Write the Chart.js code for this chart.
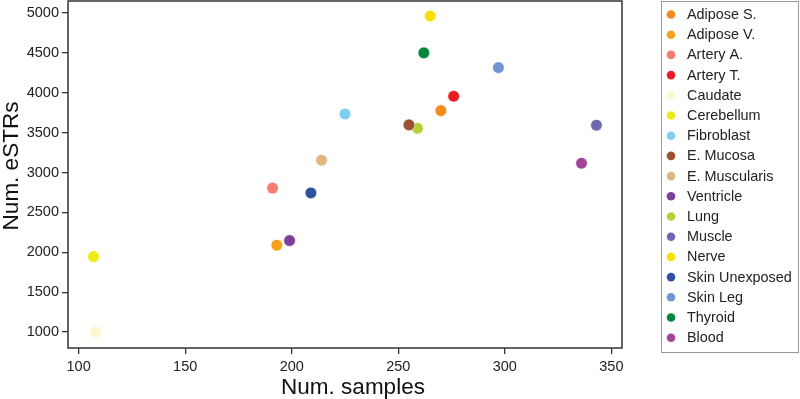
<!DOCTYPE html>
<html>
<head>
<meta charset="utf-8">
<script src="https://cdn.jsdelivr.net/npm/chart.js@4"></script>
<style>
  html, body { margin: 0; padding: 0; background: #fff; }
  #wrap { width: 800px; height: 399px; }
</style>
</head>
<body>
<div id="wrap"><canvas id="scatter"></canvas></div>
<script>
// values
var tissues = ['Adipose S.', 'Adipose V.', 'Artery A.', 'Artery T.', 'Caudate', 'Cerebellum',
  'Fibroblast', 'E. Mucosa', 'E. Muscularis', 'Ventricle', 'Lung', 'Muscle', 'Nerve',
  'Skin Unexposed', 'Skin Leg', 'Thyroid', 'Blood'];
var numSamples = [270, 193, 191, 276, 108, 107, 225, 255, 214, 199, 259, 343, 265, 209, 297, 262, 336];
var numEstrs = [3776, 2089, 2805, 3956, 1000, 1946, 3734, 3597, 3154, 2147, 3555, 3593, 4962, 2744, 4315, 4500, 3116];
var tissueColors = ['#f58b1f', '#f9a11b', '#f47c70', '#ec1c24', '#fdf6cf', '#eeea16',
  '#7fcdef', '#9c5230', '#ddb680', '#7e3f98', '#b2d235', '#6e68b0', '#fedd00',
  '#2f52a1', '#6f96d2', '#06853f', '#a3449a'];
var xTicks = [100, 150, 200, 250, 300, 350];
var yTicks = [1000, 1500, 2000, 2500, 3000, 3500, 4000, 4500, 5000];
var xTitle = 'Num. samples';
var yTitle = 'Num. eSTRs';

var FONT = '"Liberation Sans", Arial, sans-serif';

var datasets = tissues.map(function (name, i) {
  return {
    label: name,
    data: [{ x: numSamples[i], y: numEstrs[i] }],
    backgroundColor: tissueColors[i],
    borderColor: '#ffffff',
    borderWidth: 0.5,
    pointRadius: 5.8,
    pointHoverRadius: 5.8
  };
});

// frame round the plot area, plus the two axis titles
var framePlugin = {
  id: 'frame',
  afterDraw: function (chart) {
    var a = chart.chartArea;
    var ctx = chart.ctx;
    ctx.save();
    ctx.strokeStyle = '#333333';
    ctx.lineWidth = 1.5;
    ctx.strokeRect(a.left, a.top, a.right - a.left, a.bottom - a.top);

    ctx.fillStyle = '#111111';
    ctx.font = '22.5px ' + FONT;
    ctx.textAlign = 'center';
    ctx.textBaseline = 'alphabetic';
    ctx.fillText(xTitle, 353, 394);
    ctx.translate(18, 166);
    ctx.rotate(-Math.PI / 2);
    ctx.fillText(yTitle, 0, 0);
    ctx.restore();
  }
};

// legend in a box on the right
var boxLegend = {
  id: 'boxLegend',
  afterDraw: function (chart) {
    var ctx = chart.ctx;
    ctx.save();
    ctx.strokeStyle = '#999999';
    ctx.lineWidth = 1;
    ctx.strokeRect(661.5, 1.5, 137, 351);
    ctx.font = '14.4px ' + FONT;
    ctx.textBaseline = 'middle';
    chart.data.datasets.forEach(function (ds, i) {
      var y = 14.5 + i * 20.2;
      ctx.beginPath();
      ctx.arc(671, y, 4.3, 0, Math.PI * 2);
      ctx.fillStyle = ds.backgroundColor;
      ctx.fill();
      ctx.fillStyle = '#222222';
      ctx.fillText(ds.label, 687, y + 0.5);
    });
    ctx.restore();
  }
};

function fixTicks(values) {
  return function (scale) {
    scale.ticks = values.map(function (v) { return { value: v }; });
  };
}

function plain(v) { return String(v); }

new Chart(document.getElementById('scatter'), {
  type: 'scatter',
  data: { datasets: datasets },
  options: {
    responsive: true,
    maintainAspectRatio: false,
    animation: false,
    layout: { autoPadding: false, padding: { top: 1, right: 178, left: 0, bottom: 0 } },
    plugins: {
      legend: { display: false },
      tooltip: { enabled: false }
    },
    scales: {
      x: {
        type: 'linear',
        min: 95,
        max: 355,
        afterBuildTicks: fixTicks(xTicks),
        afterFit: function (scale) {
          scale.height = 51;
          scale.paddingLeft = 0;
          scale.paddingRight = 0;
        },
        border: { display: false },
        grid: { drawOnChartArea: false, drawTicks: true, tickLength: 6, tickColor: '#333333', lineWidth: 1.3 },
        ticks: { color: '#222222', font: { family: FONT, size: 14.5 }, padding: 4, maxRotation: 0, callback: plain }
      },
      y: {
        type: 'linear',
        min: 800,
        max: 5150,
        afterBuildTicks: fixTicks(yTicks),
        afterFit: function (scale) {
          scale.width = 68;
          scale.paddingTop = 0;
          scale.paddingBottom = 0;
        },
        border: { display: false },
        grid: { drawOnChartArea: false, drawTicks: true, tickLength: 6, tickColor: '#333333', lineWidth: 1.3 },
        ticks: { color: '#222222', font: { family: FONT, size: 14.5 }, padding: 3, callback: plain }
      }
    }
  },
  plugins: [framePlugin, boxLegend]
});
</script>
</body>
</html>
